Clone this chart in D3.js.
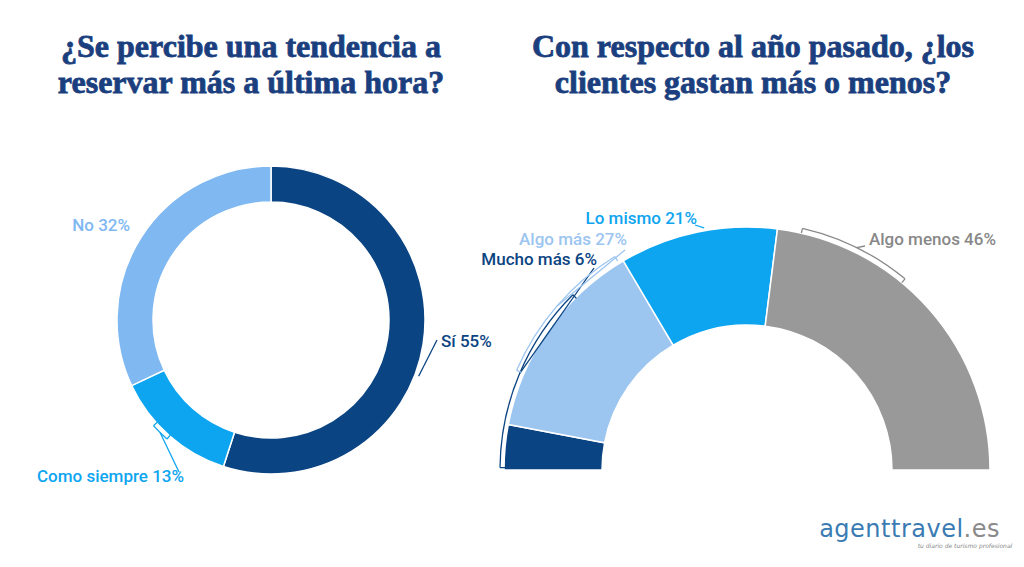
<!DOCTYPE html>
<html><head><meta charset="utf-8">
<script src="https://cdn.jsdelivr.net/npm/d3@7"></script>
<style>body{margin:0;background:#fff}</style></head>
<body><svg id="c" width="1024" height="567"></svg>
<script>
const leftCats=["Sí","Como siempre","No"];
const leftVals=[55,13,32];
const leftColors=["#0b4482","#0ea5f0","#80b8f2"];
const rightCats=["Mucho más","Algo más","Lo mismo","Algo menos"];
const rightVals=[6,27,21,46];
const rightColors=["#0b4482","#9cc5f0","#0ea5f0","#999999"];

const svg=d3.select("#c");
const titleStyle=t=>t.attr("font-family","Liberation Serif, DejaVu Serif, serif").attr("font-weight","bold").attr("font-size",32).attr("fill","#1b3f7e").attr("stroke","#1b3f7e").attr("stroke-width",0.8).attr("text-anchor","middle");
[["¿Se percibe una tendencia a",251,57],["reservar más a última hora?",251,93],["Con respecto al año pasado, ¿los",753,57],["clientes gastan más o menos?",753,93]].forEach(d=>{
  svg.append("text").text(d[0]).attr("x",d[1]).attr("y",d[2]).call(titleStyle);
});

function label(g,lab,lx,ly,anchor,color){
  g.append("text").text(lab).attr("x",lx).attr("y",ly).attr("text-anchor",anchor)
   .attr("font-family","Roboto, sans-serif").attr("font-weight","500").attr("font-size",17).attr("fill",color);
}
function drawBracket(g,a0,a1,r,color,ex,ey,arcOn){
  const am=(a0+a1)/2;
  if(arcOn){
    const arc=d3.arc().innerRadius(r).outerRadius(r).startAngle(a0).endAngle(a1);
    g.append("path").attr("d",arc()).attr("fill","none").attr("stroke",color).attr("stroke-width",1.3);
    [a0,a1].forEach(a=>{
      g.append("line").attr("x1",Math.sin(a)*r).attr("y1",-Math.cos(a)*r)
       .attr("x2",Math.sin(a)*(r-5)).attr("y2",-Math.cos(a)*(r-5)).attr("stroke",color).attr("stroke-width",1.3);
    });
  }
  g.append("line").attr("x1",Math.sin(am)*r).attr("y1",-Math.cos(am)*r).attr("x2",ex).attr("y2",ey)
   .attr("stroke",color).attr("stroke-width",1.3);
}

// left donut
const gl=svg.append("g").attr("transform","translate(271,320)");
const pieL=d3.pie().sort(null).value(d=>d)(leftVals);
const arcL=d3.arc().innerRadius(118).outerRadius(154);
gl.selectAll("path.s").data(pieL).join("path").attr("class","s").attr("d",arcL)
  .attr("fill",(d,i)=>leftColors[i]).attr("stroke","#fff").attr("stroke-width",1.5);
drawBracket(gl,1.90,1.97,158,leftColors[0],166,20,false);
label(gl,leftCats[0]+" "+leftVals[0]+"%",170,27,"start",leftColors[0]);
drawBracket(gl,3.86,3.98,158,leftColors[1],-92,152,true);
label(gl,leftCats[1]+" "+leftVals[1]+"%",-87,162,"end",leftColors[1]);
label(gl,leftCats[2]+" "+leftVals[2]+"%",-141,-89,"end",leftColors[2]);

// right half donut
const gr=svg.append("g").attr("transform","translate(747,470)");
const pieR=d3.pie().sort(null).value(d=>d).startAngle(-Math.PI/2).endAngle(Math.PI/2)(rightVals);
const arcR=d3.arc().innerRadius(145).outerRadius(243);
gr.selectAll("path.s").data(pieR).join("path").attr("class","s").attr("d",arcR)
  .attr("fill",(d,i)=>rightColors[i]).attr("stroke","#fff").attr("stroke-width",1.5);
drawBracket(gr,pieR[0].startAngle+0.01,pieR[0].endAngle+0.6,247,rightColors[0],-153,-202,true);
label(gr,rightCats[0]+" "+rightVals[0]+"%",-150,-205,"end",rightColors[0]);
drawBracket(gr,pieR[1].startAngle+0.22,pieR[1].endAngle-0.02,251,rightColors[1],-122,-220,true);
label(gr,rightCats[1]+" "+rightVals[1]+"%",-120,-225,"end",rightColors[1]);
drawBracket(gr,-0.18,-0.17,246,rightColors[2],-52,-245,false);
label(gr,rightCats[2]+" "+rightVals[2]+"%",-50,-246,"end",rightColors[2]);
drawBracket(gr,pieR[3].startAngle+0.10,pieR[3].endAngle-0.88,248,"#888",118,-224,true);
label(gr,rightCats[3]+" "+rightVals[3]+"%",122,-225,"start","#888");

// logo
svg.append("text").attr("x",1000).attr("y",537).attr("text-anchor","end").attr("font-family","DejaVu Sans, sans-serif").attr("font-size",24).attr("letter-spacing",0.5)
  .selectAll("tspan").data([["agenttravel","#3b7bb3"],[".es","#8a8a8a"]]).join("tspan").text(d=>d[0]).attr("fill",d=>d[1]);
svg.append("text").attr("x",965).attr("y",548).attr("text-anchor","middle").attr("font-family","DejaVu Sans, sans-serif").attr("font-size",6).attr("font-style","italic").attr("fill","#888").text("tu diario de turismo profesional");
</script></body></html>
